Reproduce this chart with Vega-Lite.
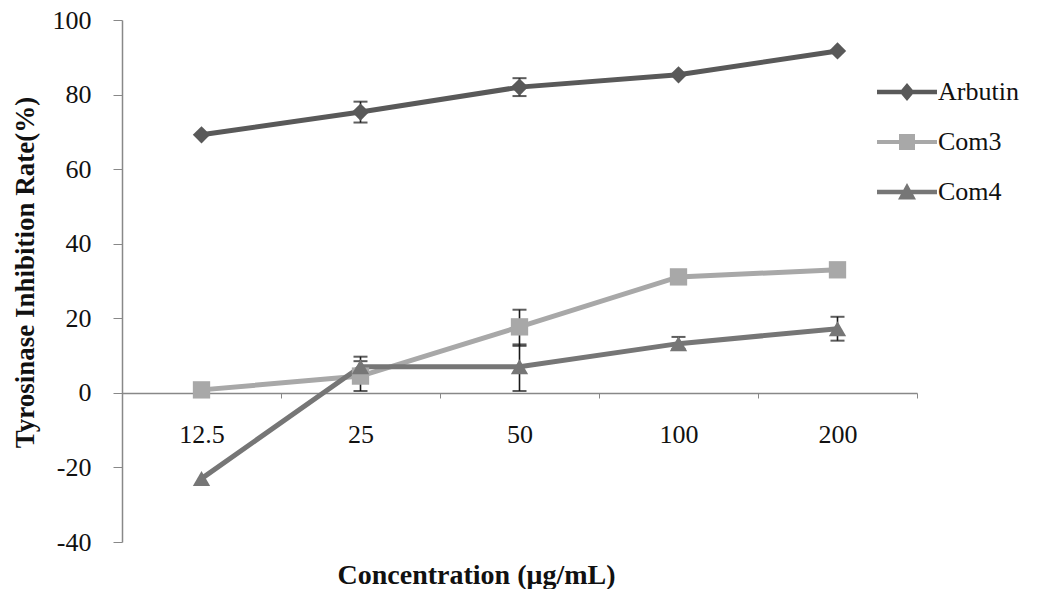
{
  "$schema": "https://vega.github.io/schema/vega-lite/v6.json",
  "autosize": "none",
  "width": 795,
  "height": 522,
  "padding": {"left": 122, "top": 20, "right": 120, "bottom": 47},
  "background": "white",
  "config": {
    "view": {"stroke": null},
    "font": "Liberation Serif",
    "legend": {"labelFont": "Liberation Serif, serif", "labelFontSize": 26, "labelColor": "#111"}
  },
  "resolve": {"legend": {"color": "independent", "shape": "independent"}},
  "data": {
    "values": [
      {"series": "Arbutin", "conc": "12.5", "value": 69.2},
      {"series": "Arbutin", "conc": "25", "value": 75.3, "lo": 72.5, "hi": 78.1},
      {"series": "Arbutin", "conc": "50", "value": 82.0, "lo": 79.6, "hi": 84.4},
      {"series": "Arbutin", "conc": "100", "value": 85.3},
      {"series": "Arbutin", "conc": "200", "value": 91.7},
      {"series": "Com3", "conc": "12.5", "value": 0.8},
      {"series": "Com3", "conc": "25", "value": 4.5, "lo": 0.5, "hi": 8.5},
      {"series": "Com3", "conc": "50", "value": 17.7, "lo": 12.6, "hi": 22.3},
      {"series": "Com3", "conc": "100", "value": 31.1},
      {"series": "Com3", "conc": "200", "value": 33.0},
      {"series": "Com4", "conc": "12.5", "value": -23.0},
      {"series": "Com4", "conc": "25", "value": 7.0, "lo": 4.5, "hi": 9.7},
      {"series": "Com4", "conc": "50", "value": 7.0, "lo": 0.5, "hi": 13.0},
      {"series": "Com4", "conc": "100", "value": 13.2, "lo": 11.8, "hi": 15.0},
      {"series": "Com4", "conc": "200", "value": 17.2, "lo": 14.0, "hi": 20.4}
    ]
  },
  "encoding": {
    "x": {
      "field": "conc",
      "type": "nominal",
      "sort": ["12.5", "25", "50", "100", "200"],
      "scale": {"type": "band", "paddingInner": 0, "paddingOuter": 0},
      "axis": {
        "title": "Concentration (μg/mL)",
        "titleFont": "Liberation Serif",
        "titleFontSize": 28,
        "titleFontWeight": "bold",
        "titleColor": "#111",
        "titleX": 354,
        "titleY": 182,
        "titleAlign": "center",
        "titleBaseline": "middle",
        "titleAngle": 0,
        "offset": -149,
        "labelAngle": 0,
        "labelFont": "Liberation Serif",
        "labelFontSize": 26,
        "labelColor": "#111",
        "labelPadding": 23,
        "tickBand": "extent",
        "tickSize": 5,
        "tickColor": "#888",
        "domainColor": "#888",
        "domainWidth": 1.5,
        "grid": false
      }
    },
    "y": {
      "field": "value",
      "type": "quantitative",
      "scale": {"domain": [-40, 100], "nice": false, "zero": false},
      "axis": {
        "title": "Tyrosinase Inhibition Rate(%)",
        "titleFont": "Liberation Serif",
        "titleFontSize": 27,
        "titleFontWeight": "bold",
        "titleColor": "#111",
        "titleX": -97,
        "titleY": 252,
        "titleAngle": -90,
        "titleAlign": "center",
        "titleBaseline": "middle",
        "values": [-40, -20, 0, 20, 40, 60, 80, 100],
        "labelExpr": "datum.value + ''",
        "labelFont": "Liberation Serif",
        "labelFontSize": 26,
        "labelColor": "#111",
        "labelPadding": 22,
        "tickSize": 9,
        "tickColor": "#888",
        "domainColor": "#888",
        "domainWidth": 1.5,
        "grid": false
      }
    }
  },
  "layer": [
    {
      "transform": [{"filter": "isValid(datum.lo)"}],
      "mark": {"type": "rule", "color": "#1a1a1a", "strokeWidth": 1.6},
      "encoding": {
        "y": {"field": "lo", "type": "quantitative"},
        "y2": {"field": "hi"}
      }
    },
    {
      "transform": [{"filter": "isValid(datum.lo)"}],
      "mark": {"type": "tick", "orient": "horizontal", "color": "#1a1a1a", "size": 14, "thickness": 2},
      "encoding": {
        "y": {"field": "lo", "type": "quantitative"}
      }
    },
    {
      "transform": [{"filter": "isValid(datum.hi)"}],
      "mark": {"type": "tick", "orient": "horizontal", "color": "#1a1a1a", "size": 14, "thickness": 2},
      "encoding": {
        "y": {"field": "hi", "type": "quantitative"}
      }
    },
    {
      "mark": {"type": "line", "strokeWidth": 5},
      "encoding": {
        "color": {
          "field": "series",
          "type": "nominal",
          "scale": {"domain": ["Arbutin", "Com3", "Com4"], "range": ["#595959", "#a8a8a8", "#767676"]},
          "legend": {
            "title": null,
            "orient": "none",
            "legendX": 772,
            "legendY": 59,
            "padding": 0,
            "symbolSize": 400,
            "rowPadding": 24,
            "labelOffset": 18,
            "labelFont": "Liberation Serif, serif",
            "labelFontSize": 26,
            "labelColor": "#111",
            "encode": {
              "labels": {
                "update": {
                  "font": {"value": "Liberation Serif, serif"},
                  "fontSize": {"value": 26},
                  "fontWeight": {"value": "normal"},
                  "fill": {"value": "#111"}
                }
              },
              "symbols": {
                "update": {
                  "shape": {"signal": "datum.value === 'Arbutin' ? 'M-3,-0.22H3V0.22H-3Z M0,-0.9L0.75,0L0,0.9L-0.75,0Z' : datum.value === 'Com3' ? 'M-3,-0.2H3V0.2H-3Z M-0.8,-0.8H0.8V0.8H-0.8Z' : 'M-3,-0.22H3V0.22H-3Z M0,-0.9L0.9,0.75H-0.9Z'"},
                  "fill": {"signal": "datum.value === 'Arbutin' ? '#595959' : datum.value === 'Com3' ? '#a8a8a8' : '#767676'"},
                  "stroke": {"value": "transparent"},
                  "strokeWidth": {"value": 0},
                  "size": {"value": 400}
                }
              }
            }
          }
        }
      }
    },
    {
      "mark": {"type": "point", "filled": true, "opacity": 1, "size": 300},
      "encoding": {
        "color": {"field": "series", "type": "nominal", "legend": null},
        "shape": {
          "field": "series",
          "type": "nominal",
          "scale": {"domain": ["Arbutin", "Com3", "Com4"], "range": ["diamond", "square", "triangle-up"]},
          "legend": null
        }
      }
    }
  ]
}
